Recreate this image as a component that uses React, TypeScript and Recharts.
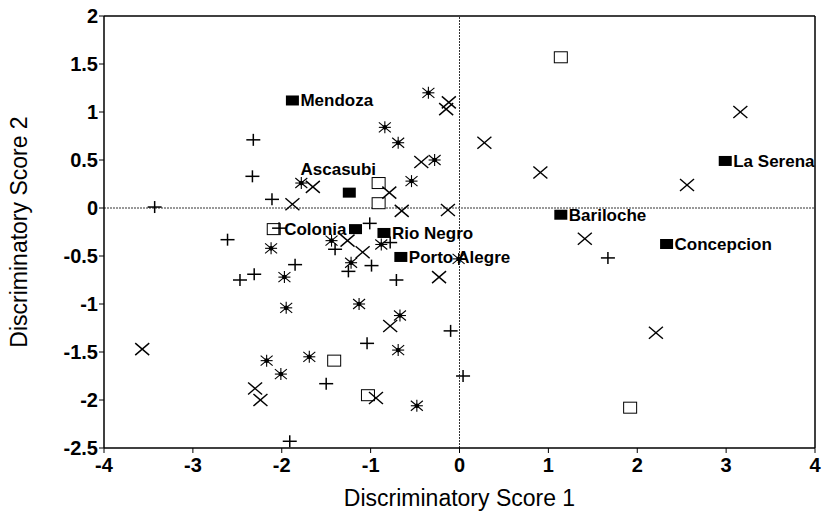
import { ScatterChart, Scatter, XAxis, YAxis, ReferenceLine } from "recharts";

// labelled sites (filled squares)
const sites = [
  { x: -1.88, y: 1.12, name: "Mendoza" },
  { x: -1.24, y: 0.16, name: "Ascasubi" },
  { x: -1.17, y: -0.22, name: "Colonia" },
  { x: -0.85, y: -0.26, name: "Rio Negro" },
  { x: -0.66, y: -0.51, name: "Porto Alegre" },
  { x: 1.14, y: -0.07, name: "Bariloche" },
  { x: 2.33, y: -0.375, name: "Concepcion" },
  { x: 2.99, y: 0.49, name: "La Serena" },
];

const openSquares = [
  { x: 1.14, y: 1.57 },
  { x: -0.91, y: 0.26 },
  { x: -0.91, y: 0.05 },
  { x: -2.09, y: -0.22 },
  { x: -1.41, y: -1.59 },
  { x: -1.03, y: -1.95 },
  { x: 1.92, y: -2.08 },
];

const plusPoints = [
  { x: -3.43, y: 0.01 },
  { x: -2.61, y: -0.33 },
  { x: -2.32, y: 0.71 },
  { x: -2.33, y: 0.33 },
  { x: -2.11, y: 0.09 },
  { x: -2.03, y: -0.21 },
  { x: -2.47, y: -0.75 },
  { x: -2.31, y: -0.69 },
  { x: -1.85, y: -0.59 },
  { x: -1.01, y: -0.16 },
  { x: -1.4, y: -0.43 },
  { x: -0.78, y: -0.36 },
  { x: -0.99, y: -0.6 },
  { x: -1.25, y: -0.66 },
  { x: -0.71, y: -0.75 },
  { x: -1.04, y: -1.41 },
  { x: -0.1, y: -1.28 },
  { x: 0.04, y: -1.75 },
  { x: -1.5, y: -1.83 },
  { x: -1.91, y: -2.43 },
  { x: 1.67, y: -0.52 },
];

const asteriskPoints = [
  { x: -0.35, y: 1.2 },
  { x: -0.84, y: 0.84 },
  { x: -0.69, y: 0.68 },
  { x: -0.28, y: 0.5 },
  { x: -0.54, y: 0.28 },
  { x: -1.78, y: 0.26 },
  { x: -2.12, y: -0.42 },
  { x: -1.44, y: -0.34 },
  { x: -0.88, y: -0.38 },
  { x: -1.22, y: -0.57 },
  { x: -1.97, y: -0.72 },
  { x: -0.01, y: -0.53 },
  { x: -1.95, y: -1.04 },
  { x: -1.13, y: -1.0 },
  { x: -0.67, y: -1.12 },
  { x: -0.69, y: -1.48 },
  { x: -1.69, y: -1.55 },
  { x: -2.17, y: -1.59 },
  { x: -2.01, y: -1.73 },
  { x: -0.48, y: -2.06 },
];

const crossPoints = [
  { x: -0.12, y: 1.1 },
  { x: -0.15, y: 1.03 },
  { x: -0.43, y: 0.48 },
  { x: -1.65, y: 0.22 },
  { x: -0.79, y: 0.16 },
  { x: -1.88, y: 0.04 },
  { x: -0.65, y: -0.03 },
  { x: -0.13, y: -0.02 },
  { x: -1.26, y: -0.34 },
  { x: -1.09, y: -0.46 },
  { x: -0.23, y: -0.72 },
  { x: -0.78, y: -1.23 },
  { x: -2.3, y: -1.88 },
  { x: -2.24, y: -2.0 },
  { x: -0.94, y: -1.98 },
  { x: -3.57, y: -1.47 },
  { x: 0.28, y: 0.68 },
  { x: 0.91, y: 0.37 },
  { x: 2.56, y: 0.24 },
  { x: 3.16, y: 1.0 },
  { x: 1.41, y: -0.32 },
  { x: 2.21, y: -1.3 },
];

const xTicks = [-4, -3, -2, -1, 0, 1, 2, 3, 4];
const yTicks = [-2.5, -2, -1.5, -1, -0.5, 0, 0.5, 1, 1.5, 2];

const FONT = "'Liberation Sans', Arial, Helvetica, sans-serif";

const SiteMarker = (props: any) => {
  const { cx, cy, payload } = props;
  const name = payload.name;
  let label = null;
  if (name === "Colonia") {
    label = (
      <text x={cx - 9} y={cy + 6} textAnchor="end" fontSize={17} fontWeight="bold" fontFamily={FONT} fill="#000">
        {name}
      </text>
    );
  } else if (name === "Ascasubi") {
    label = (
      <text x={cx - 11} y={cy - 18} textAnchor="middle" fontSize={17} fontWeight="bold" fontFamily={FONT} fill="#000">
        {name}
      </text>
    );
  } else {
    label = (
      <text x={cx + 8} y={cy + 6} textAnchor="start" fontSize={17} fontWeight="bold" fontFamily={FONT} fill="#000">
        {name}
      </text>
    );
  }
  return (
    <g>
      <rect x={cx - 6.5} y={cy - 5} width={13} height={10} fill="#000" />
      {label}
    </g>
  );
};

const OpenSquare = (props: any) => {
  const { cx, cy } = props;
  return <rect x={cx - 6.5} y={cy - 5.5} width={13} height={11} fill="#fff" stroke="#000" strokeWidth={1} />;
};

const Plus = (props: any) => {
  const { cx, cy } = props;
  return (
    <g stroke="#000" strokeWidth={1.5}>
      <line x1={cx - 7} y1={cy} x2={cx + 7} y2={cy} />
      <line x1={cx} y1={cy - 6} x2={cx} y2={cy + 6} />
    </g>
  );
};

const Cross = (props: any) => {
  const { cx, cy } = props;
  return (
    <g stroke="#000" strokeWidth={1.4}>
      <line x1={cx - 7} y1={cy - 6} x2={cx + 7} y2={cy + 6} />
      <line x1={cx - 7} y1={cy + 6} x2={cx + 7} y2={cy - 6} />
    </g>
  );
};

const Asterisk = (props: any) => {
  const { cx, cy } = props;
  return (
    <g stroke="#000" strokeWidth={1.1}>
      <line x1={cx - 6} y1={cy - 5} x2={cx + 6} y2={cy + 5} />
      <line x1={cx - 6} y1={cy + 5} x2={cx + 6} y2={cy - 5} />
      <line x1={cx} y1={cy - 6} x2={cx} y2={cy + 6} />
      <line x1={cx - 6} y1={cy} x2={cx + 6} y2={cy} />
      <circle cx={cx} cy={cy} r={1.8} fill="#000" />
    </g>
  );
};

const tickStyle = { fill: "#000", fontSize: 20, fontWeight: "bold" as const, fontFamily: FONT };

export default function App() {
  return (
    <div style={{ position: "absolute", left: 0, top: 0, background: "#fff" }}>
      <ScatterChart width={822} height={513} margin={{ top: 16, right: 7, bottom: 0, left: 0 }}>
        <XAxis
          type="number"
          dataKey="x"
          domain={[-4, 4]}
          ticks={xTicks}
          allowDataOverflow
          height={65}
          tickSize={5}
          tickMargin={5}
          stroke="#000"
          axisLine={{ stroke: "#000", strokeWidth: 1.5 }}
          tick={tickStyle}
          label={{
            value: "Discriminatory Score 1",
            position: "insideBottom",
            offset: 7,
            style: { fill: "#000", fontSize: 23, fontFamily: FONT, textAnchor: "middle" },
          }}
        />
        <YAxis
          type="number"
          dataKey="y"
          domain={[-2.5, 2]}
          ticks={yTicks}
          allowDataOverflow
          width={104}
          tickSize={5}
          tickMargin={1}
          stroke="#000"
          axisLine={{ stroke: "#000", strokeWidth: 1.5 }}
          tick={tickStyle}
          label={{
            value: "Discriminatory Score 2",
            angle: -90,
            position: "insideLeft",
            offset: 19,
            style: { fill: "#000", fontSize: 23, fontFamily: FONT, textAnchor: "middle" },
          }}
        />
        <ReferenceLine y={2} stroke="#000" strokeWidth={1.5} />
        <ReferenceLine x={4} stroke="#000" strokeWidth={1.5} />
        <ReferenceLine y={0} stroke="#333" strokeWidth={1} strokeDasharray="2 1" />
        <ReferenceLine x={0} stroke="#333" strokeWidth={1} strokeDasharray="2 1" />
        <Scatter data={openSquares} shape={OpenSquare} isAnimationActive={false} />
        <Scatter data={plusPoints} shape={Plus} isAnimationActive={false} />
        <Scatter data={crossPoints} shape={Cross} isAnimationActive={false} />
        <Scatter data={asteriskPoints} shape={Asterisk} isAnimationActive={false} />
        <Scatter data={sites} shape={SiteMarker} isAnimationActive={false} />
      </ScatterChart>
    </div>
  );
}
